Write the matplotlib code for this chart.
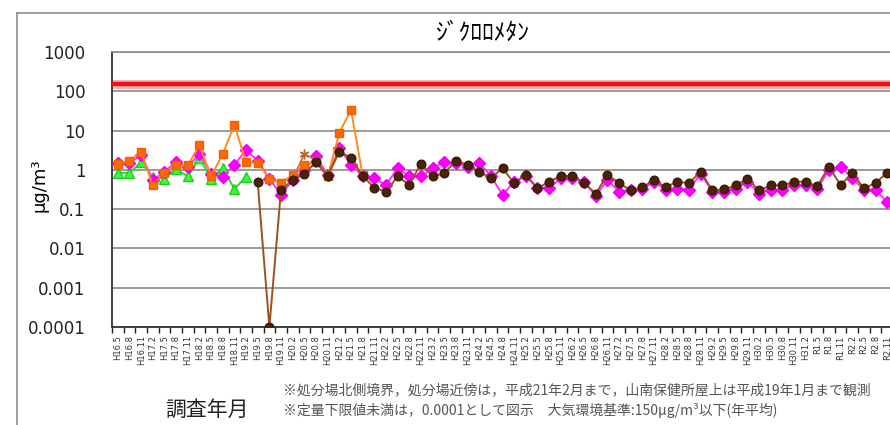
import numpy as np
import matplotlib
matplotlib.use("Agg")
import matplotlib.pyplot as plt
from matplotlib.lines import Line2D
from matplotlib.ticker import FixedLocator, NullLocator

plt.rcParams['font.family'] = ['Noto Sans CJK JP', 'DejaVu Sans']

nan = np.nan

# ---- data ----
dates = ["H16.5", "H16.8", "H16.11", "H17.2", "H17.5", "H17.8", "H17.11", "H18.2",
         "H18.5", "H18.8", "H18.11", "H19.2", "H19.5", "H19.8", "H19.11", "H20.2",
         "H20.5", "H20.8", "H20.11", "H21.2", "H21.5", "H21.8", "H21.11", "H22.2",
         "H22.5", "H22.8", "H22.11", "H23.2", "H23.5", "H23.8", "H23.11", "H24.2",
         "H24.5", "H24.8", "H24.11", "H25.2", "H25.5", "H25.8", "H25.11", "H26.2",
         "H26.5", "H26.8", "H26.11", "H27.2", "H27.5", "H27.8", "H27.11", "H28.2",
         "H28.5", "H28.8", "H28.11", "H29.2", "H29.5", "H29.8", "H29.11", "H30.2",
         "H30.5", "H30.8", "H30.11", "H31.2", "R1.5", "R1.8", "R1.11", "R2.2",
         "R2.5", "R2.8", "R2.11"]

# 山南保健所屋上 (green triangles)
green_vals = [0.85, 0.83, 1.55, 0.66, 0.6, 1.05, 0.68, 2.0, 0.6, 1.1, 0.33, 0.66]

# 処分場北側境界 (orange squares)
orange_vals = [1.4, 1.7, 2.9, 0.4, 0.85, 1.3, 1.3, 4.2, 0.7, 2.5, 14, 1.55,
               1.5, 0.6, 0.46, 0.75, 1.35, 1.6, 0.68, 8.7, 34, 0.72]

# asterisk series
star_vals = [nan] * 15 + [0.6, 2.5, 1.8, 0.75, 3.2, 1.9, 0.75]

# magenta diamonds
magenta_vals = [1.5, 1.5, 2.4, 0.55, 0.9, 1.6, 1.2, 2.6, 0.8, 0.67, 1.35, 3.2,
                1.7, 0.6, 0.23, 0.55, 1.0, 2.2, 0.75, 3.6, 1.35, 0.7, 0.62, 0.41,
                1.1, 0.68, 0.68, 1.1, 1.6, 1.5, 1.2, 1.5, 0.7, 0.23, 0.5, 0.7,
                0.34, 0.34, 0.62, 0.62, 0.5, 0.22, 0.55, 0.28, 0.3, 0.32, 0.5, 0.31,
                0.33, 0.31, 0.8, 0.28, 0.28, 0.32, 0.5, 0.25, 0.31, 0.31, 0.41, 0.41,
                0.32, 1.0, 1.2, 0.62, 0.31, 0.31, 0.15]

# brown circles
brown_vals = [nan] * 12 + [0.48, 0.0001, 0.31, 0.55, 0.8, 1.6, 0.68, 2.9, 2.0, 0.7,
                           0.35, 0.28, 0.68, 0.41, 1.45, 0.68, 0.82, 1.7, 1.35, 0.9,
                           0.62, 1.1, 0.46, 0.75, 0.34, 0.5, 0.7, 0.7, 0.46, 0.25,
                           0.75, 0.46, 0.3, 0.36, 0.55, 0.36, 0.5, 0.46, 0.9, 0.3,
                           0.32, 0.4, 0.6, 0.3, 0.4, 0.4, 0.5, 0.5, 0.38, 1.2,
                           0.41, 0.82, 0.34, 0.46, 0.85]

standard = 150  # 大気環境基準

yticks = [1e-4, 1e-3, 1e-2, 1e-1, 1, 10, 100, 1000]
ytick_labels = ["0.0001", "0.001", "0.01", "0.1", "1", "10", "100", "1000"]

# ---- figure ----
W, H = 890, 425
fig = plt.figure(figsize=(W / 100, H / 100), dpi=100)
fig.patch.set_facecolor('white')

# outer chart border (top and left visible)
fig.add_artist(Line2D([17 / W, 17 / W], [0, 1 - 13 / H], transform=fig.transFigure,
                      color='#8c8c8c', lw=1.2))
fig.add_artist(Line2D([17 / W, 1.0], [1 - 13 / H, 1 - 13 / H], transform=fig.transFigure,
                      color='#8c8c8c', lw=1.2))

ax = fig.add_axes([112 / W, 1 - 327 / H, (893 - 112) / W, 275 / H])
n = len(dates)
x = np.arange(n)

ax.set_yscale('log')
ax.set_ylim(1e-4, 1e3)
ax.set_xlim(-0.5, n - 0.5)

ax.yaxis.set_major_locator(FixedLocator(yticks))
ax.yaxis.set_minor_locator(NullLocator())
ax.set_yticklabels(ytick_labels, fontsize=12, family='DejaVu Sans', color='#222222')
ax.tick_params(axis='y', length=0, pad=19)
ax.yaxis.grid(True, color='#8a8a8a', lw=1.2)
ax.set_axisbelow(True)

ax.set_xticks(x)
ax.set_xticklabels(dates, rotation=90, fontsize=6, family='DejaVu Sans', color='#333333')
ax.set_xticks(np.arange(-0.5, n, 1.0), minor=True)
ax.tick_params(axis='x', which='major', length=0, pad=6)
ax.tick_params(axis='x', which='minor', length=4, width=1, color='#222222', direction='out')

for s in ['left', 'bottom']:
    ax.spines[s].set_color('#333333')
    ax.spines[s].set_linewidth(1.3)
ax.spines['top'].set_color('#8a8a8a')
ax.spines['top'].set_linewidth(1.2)
ax.spines['right'].set_visible(False)

# standard line
ax.axhline(standard, color='#ffb0b0', lw=6.5, zorder=2)
ax.axhline(standard, color='#e8141c', lw=3.2, zorder=3)

gx = x[:len(green_vals)]
ox = x[:len(orange_vals)]
sx = x[:len(star_vals)]

ax.plot(gx, green_vals, color='#22dd22', lw=1.4, marker='^', ms=7,
        mfc='#33ff33', mec='#22cc22', zorder=4)
ax.plot(x, magenta_vals, color='#ff33ff', lw=1.4, marker='D', ms=6.2,
        mfc='#ff00ff', mec='#ee00ee', zorder=5)
ax.plot(ox, orange_vals, color='#ff8c1a', lw=1.4, marker='s', ms=6.2,
        mfc='#ff6a00', mec='#f06000', zorder=6)
ax.plot(sx, star_vals, color='#c8722e', lw=1.2, marker=(6, 2, 0), ms=7,
        mec='#b5602a', mew=1.0, zorder=6)
ax.plot(x, brown_vals, color='#a0501e', lw=1.4, marker='o', ms=6.2,
        mfc='#4a2208', mec='#3d1b05', zorder=7)

# texts
fig.text(483 / W, 1 - 33 / H, "ｼﾞｸﾛﾛﾒﾀﾝ", ha='center', va='center', fontsize=17,
         family=['Noto Sans CJK JP', 'DejaVu Sans'])
fig.text(40 / W, 1 - 185 / H, "μg/m³", rotation=90, ha='center', va='center',
         fontsize=13, family=['DejaVu Sans'])
fig.text(207 / W, 1 - 410 / H, "調査年月", ha='center', va='center', fontsize=15,
         color='#222222')
fig.text(283 / W, 1 - 390 / H,
         "※処分場北側境界，処分場近傍は，平成21年2月まで，山南保健所屋上は平成19年1月まで観測",
         ha='left', va='center', fontsize=10, color='#555555')
fig.text(283 / W, 1 - 410 / H,
         "※定量下限値未満は，0.0001として図示　大気環境基準:150μg/m³以下(年平均)",
         ha='left', va='center', fontsize=10, color='#555555')

fig.savefig("out.png", dpi=100)
